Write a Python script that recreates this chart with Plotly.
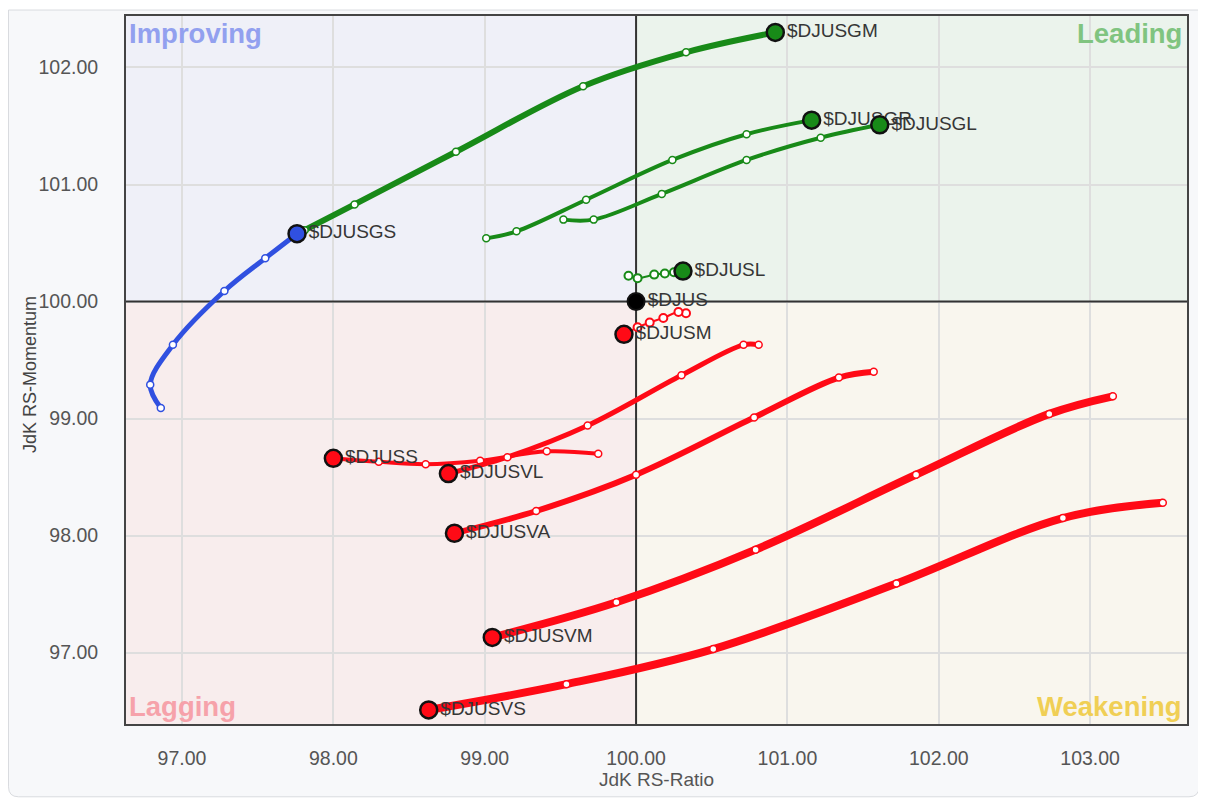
import plotly.graph_objects as go

# ---------------- data ----------------
tickers = ["$DJUSGS", "$DJUSGM", "$DJUSGR", "$DJUSGL", "$DJUSL", "$DJUSM",
           "$DJUSS", "$DJUSVL", "$DJUSVA", "$DJUSVM", "$DJUSVS"]

# tails: oldest point first, head (latest) last
GS_ratio = [96.86, 96.79, 96.94, 97.28, 97.55, 97.76]
GS_mom = [99.09, 99.29, 99.63, 100.09, 100.37, 100.58]
GM_ratio = [97.81, 98.14, 98.81, 99.65, 100.33, 100.92]
GM_mom = [100.61, 100.83, 101.28, 101.84, 102.13, 102.30]
GR_ratio = [99.01, 99.21, 99.67, 100.24, 100.73, 101.16]
GR_mom = [100.54, 100.60, 100.87, 101.21, 101.43, 101.55]
GL_ratio = [99.52, 99.72, 100.17, 100.73, 101.22, 101.61]
GL_mom = [100.70, 100.70, 100.92, 101.21, 101.40, 101.51]
L_ratio = [99.95, 100.01, 100.12, 100.19, 100.25, 100.31]
L_mom = [100.22, 100.20, 100.23, 100.24, 100.25, 100.26]
M_ratio = [100.33, 100.28, 100.18, 100.09, 100.01, 99.92]
M_mom = [99.90, 99.91, 99.86, 99.82, 99.78, 99.72]
SS_ratio = [99.75, 99.41, 98.97, 98.61, 98.30, 98.00]
SS_mom = [98.70, 98.72, 98.64, 98.61, 98.63, 98.66]
VL_ratio = [100.81, 100.71, 100.30, 99.68, 99.15, 98.76]
VL_mom = [99.63, 99.63, 99.37, 98.94, 98.67, 98.53]
VA_ratio = [101.57, 101.34, 100.78, 100.00, 99.34, 98.80]
VA_mom = [99.40, 99.35, 99.01, 98.52, 98.21, 98.02]
VM_ratio = [103.15, 102.73, 101.85, 100.79, 99.87, 99.05]
VM_mom = [99.19, 99.04, 98.52, 97.88, 97.43, 97.13]
VS_ratio = [103.48, 102.82, 101.72, 100.51, 99.54, 98.63]
VS_mom = [98.28, 98.15, 97.59, 97.03, 96.73, 96.51]

benchmark = "$DJUS"
bench_ratio = [100.0]
bench_mom = [100.0]

x_ticks = [97, 98, 99, 100, 101, 102, 103]
y_ticks = [97, 98, 99, 100, 101, 102]
x_range = [96.63, 103.64]
y_range = [96.39, 102.44]
center = 100.0

quadrants = ["Improving", "Leading", "Lagging", "Weakening"]
x_title = "JdK RS-Ratio"
y_title = "JdK RS-Momentum"

# ---------------- styling ----------------
GREEN = "#188a18"
RED = "#ff0a16"
BLUE = "#3050e0"

series = [
    (tickers[0], GS_ratio, GS_mom, BLUE, 5),
    (tickers[1], GM_ratio, GM_mom, GREEN, 6),
    (tickers[2], GR_ratio, GR_mom, GREEN, 4),
    (tickers[3], GL_ratio, GL_mom, GREEN, 4),
    (tickers[4], L_ratio, L_mom, GREEN, 2),
    (tickers[5], M_ratio, M_mom, RED, 2),
    (tickers[6], SS_ratio, SS_mom, RED, 4),
    (tickers[7], VL_ratio, VL_mom, RED, 5),
    (tickers[8], VA_ratio, VA_mom, RED, 6),
    (tickers[9], VM_ratio, VM_mom, RED, 8),
    (tickers[10], VS_ratio, VS_mom, RED, 8),
]

FONT = "Liberation Sans, Arial, sans-serif"
fig = go.Figure()

# tails
for name, xs, ys, col, w in series:
    fig.add_trace(go.Scatter(
        x=xs, y=ys, mode="lines+markers",
        line=dict(color=col, width=w, shape="spline", smoothing=1.0),
        marker=dict(size=7 if w > 2 else 8, color="white",
                    line=dict(color=col, width=1.5 if w > 2 else 2)),
        hoverinfo="skip", showlegend=False, cliponaxis=False))

# heads with labels
for name, xs, ys, col, w in series:
    fig.add_trace(go.Scatter(
        x=[xs[-1]], y=[ys[-1]], mode="markers+text",
        marker=dict(size=17, color=col, line=dict(color="#111111", width=2.5)),
        text=[name], textposition="middle right",
        textfont=dict(family=FONT, size=19, color="#363636"),
        name=name, showlegend=False, cliponaxis=False))

fig.add_trace(go.Scatter(
    x=bench_ratio, y=bench_mom, mode="markers+text",
    marker=dict(size=17, color="#000000", line=dict(color="#111111", width=2)),
    text=[benchmark], textposition="middle right",
    textfont=dict(family=FONT, size=19, color="#363636"),
    showlegend=False, cliponaxis=False))

# ---------------- layout geometry (page has an 8px body margin) ----------------
W, H = 1198, 796
L, R, T, B = 118, 19, 6, 80
pw, ph = W - L - R, H - T - B


def px2paper(px, py):
    return (px - L) / pw, (H - B - py) / ph


cx0, cy1 = px2paper(0.5, 0)
cx1, cy0 = px2paper(1191, 789)
rx, ry = 10 / pw, 10 / ph
card_path = (f"M {cx0} {cy1} L {cx1} {cy1} L {cx1} {cy0 + ry} "
             f"Q {cx1} {cy0} {cx1 - rx} {cy0} L {cx0 + rx} {cy0} "
             f"Q {cx0} {cy0} {cx0} {cy0 + ry} Z")

shapes = [
    dict(type="path", path=card_path, xref="paper", yref="paper",
         fillcolor="#f7f8fa", line=dict(color="#d9dbdf", width=1), layer="below"),
    # quadrant backgrounds
    dict(type="rect", xref="x", yref="y", x0=x_range[0], x1=center, y0=center, y1=y_range[1],
         fillcolor="#eff0f8", line=dict(width=0), layer="below"),
    dict(type="rect", xref="x", yref="y", x0=center, x1=x_range[1], y0=center, y1=y_range[1],
         fillcolor="#ebf3ec", line=dict(width=0), layer="below"),
    dict(type="rect", xref="x", yref="y", x0=x_range[0], x1=center, y0=y_range[0], y1=center,
         fillcolor="#f8eded", line=dict(width=0), layer="below"),
    dict(type="rect", xref="x", yref="y", x0=center, x1=x_range[1], y0=y_range[0], y1=center,
         fillcolor="#f9f6ee", line=dict(width=0), layer="below"),
    # cross lines
    dict(type="line", xref="x", yref="y", x0=center, x1=center, y0=y_range[0], y1=y_range[1],
         line=dict(color="#333333", width=2), layer="between"),
    dict(type="line", xref="x", yref="y", x0=x_range[0], x1=x_range[1], y0=center, y1=center,
         line=dict(color="#333333", width=2), layer="between"),
]

qfont = dict(family=FONT, size=27.5)
ytx, _ = px2paper(22, 0)
annotations = [
    dict(text="<b>" + quadrants[0] + "</b>", xref="x domain", yref="y domain", x=0, y=1,
         xanchor="left", yanchor="top", xshift=1, yshift=0, showarrow=False,
         font=dict(color="#92a0ef", **qfont)),
    dict(text="<b>" + quadrants[1] + "</b>", xref="x domain", yref="y domain", x=1, y=1,
         xanchor="right", yanchor="top", xshift=-3, yshift=0, showarrow=False,
         font=dict(color="#80c480", **qfont)),
    dict(text="<b>" + quadrants[2] + "</b>", xref="x domain", yref="y domain", x=0, y=0,
         xanchor="left", yanchor="bottom", xshift=1, yshift=0, showarrow=False,
         font=dict(color="#f6a2aa", **qfont)),
    dict(text="<b>" + quadrants[3] + "</b>", xref="x domain", yref="y domain", x=1, y=0,
         xanchor="right", yanchor="bottom", xshift=-3, yshift=0, showarrow=False,
         font=dict(color="#f0cf55", **qfont)),
    # y-axis title
    dict(text=y_title, xref="paper", yref="paper", x=ytx, y=0.5, textangle=-90,
         xanchor="center", yanchor="middle", yshift=-5, showarrow=False,
         font=dict(family=FONT, size=18, color="#444444")),
]

axis_common = dict(
    showgrid=True, gridcolor="#dedede", gridwidth=1.5,
    zeroline=False, showline=True, linecolor="#444444", linewidth=2, mirror=True,
    ticks="", tickformat=".2f",
    tickfont=dict(family=FONT, size=19.5, color="#555555"),
)

fig.update_layout(
    width=W, height=H,
    margin=dict(l=L, r=R, t=T, b=B),
    paper_bgcolor="white",
    plot_bgcolor="rgba(0,0,0,0)",
    shapes=shapes,
    annotations=annotations,
    xaxis=dict(range=x_range, tickvals=x_ticks, ticklabelstandoff=16,
               title=dict(text=x_title, standoff=3,
                          font=dict(family=FONT, size=19, color="#555555")),
               **axis_common),
    yaxis=dict(range=y_range, tickvals=y_ticks, ticklabelstandoff=22,
               **axis_common),
)

fig.write_html("out.html")
